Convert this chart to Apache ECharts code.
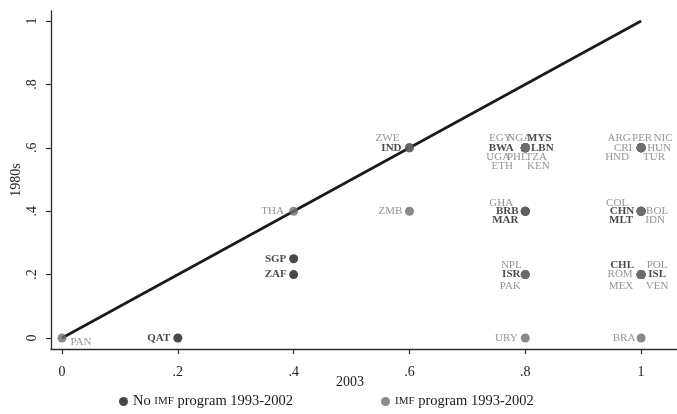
<!DOCTYPE html>
<html>
<head>
<meta charset="utf-8">
<script src="https://cdn.jsdelivr.net/npm/echarts@6/dist/echarts.min.js"></script>
<style>html,body{margin:0;padding:0;background:#fff}#c{width:677px;height:414px}</style>
</head>
<body>
<div id="c"></div>
<script>
// ---- data ----
const codes = ['PAN','QAT','THA','SGP','ZAF','ZWE','IND','ZMB',
  'EGY','NGA','MYS','BWA','LBN','UGA','PHL','TZA','ETH','KEN',
  'ARG','PER','NIC','CRI','HUN','HND','TUR',
  'GHA','BRB','MAR',
  'COL','CHN','BOL','MLT','IDN',
  'NPL','ISR','PAK',
  'CHL','POL','ROM','ISL','MEX','VEN',
  'URY','BRA'];
const share2003 = [0,0.2,0.4,0.4,0.4,0.6,0.6,0.6,
  0.8,0.8,0.8,0.8,0.8,0.8,0.8,0.8,0.8,0.8,
  1,1,1,1,1,1,1,
  0.8,0.8,0.8,
  1,1,1,1,1,
  0.8,0.8,0.8,
  1,1,1,1,1,1,
  0.8,1];
const share1980s = [0,0,0.4,0.25,0.2,0.6,0.6,0.4,
  0.6,0.6,0.6,0.6,0.6,0.6,0.6,0.6,0.6,0.6,
  0.6,0.6,0.6,0.6,0.6,0.6,0.6,
  0.4,0.4,0.4,
  0.4,0.4,0.4,0.4,0.4,
  0.2,0.2,0.2,
  0.2,0.2,0.2,0.2,0.2,0.2,
  0,0];
// 1 = IMF program 1993-2002, 0 = no IMF program
const imfProgram = [1,0,1,0,0,1,0,1,
  1,1,0,0,0,1,1,1,1,1,
  1,1,1,1,1,1,1,
  1,0,0,
  1,0,1,0,1,
  1,0,1,
  0,1,1,0,1,1,
  1,1];
const tickValues = [0,0.2,0.4,0.6,0.8,1];
const tickLabels = ['0','.2','.4','.6','.8','1'];
const groupNames = ['No IMF program 1993-2002','IMF program 1993-2002'];

// ---- label placement (layout only: [dx, dy] of label centre from marker) ----
const labelOffset = {
  PAN:[19,4], QAT:[-19,0], THA:[-21,0], SGP:[-18,0], ZAF:[-18,0],
  ZWE:[-22,-10], IND:[-18,0], ZMB:[-19,0],
  EGY:[-25,-10], NGA:[-6,-10], MYS:[14,-10], BWA:[-24,0], LBN:[17,0],
  UGA:[-27,9], PHL:[-8,9], TZA:[11,9], ETH:[-23,18], KEN:[13,18],
  ARG:[-22,-10], PER:[1,-10], NIC:[22,-10], CRI:[-18,0], HUN:[18,0], HND:[-24,9], TUR:[13,9],
  GHA:[-24,-8], BRB:[-18,0], MAR:[-20,9],
  COL:[-24,-8], CHN:[-19,0], BOL:[16,0], MLT:[-20,9], IDN:[14,9],
  NPL:[-14,-9], ISR:[-14,0], PAK:[-15,12],
  CHL:[-19,-9], POL:[16,-9], ROM:[-21,0], ISL:[16,0], MEX:[-20,12], VEN:[16,12],
  URY:[-19,0], BRA:[-17,0]
};

const FONT = "'Liberation Serif', 'DejaVu Serif', serif";
const DARK = '#1a1a1a', GREY = '#6d6d6d', GREYTXT = '#7a7a7a';

function items(flag) {
  const out = [];
  codes.forEach((c, i) => {
    if (imfProgram[i] !== flag) return;
    out.push({
      value: [share2003[i], share1980s[i]],
      name: c,
      label: {
        show: true, position: 'inside', offset: labelOffset[c],
        align: 'center', verticalAlign: 'middle',
        formatter: c, fontFamily: FONT, fontSize: 11,
        color: flag ? GREYTXT : DARK, fontWeight: flag ? 'normal' : 'bold'
      }
    });
  });
  return out;
}

const axisCommon = {
  type: 'value',
  axisLine: {show: true, onZero: false, lineStyle: {color: '#2b2b2b', width: 1.3}},
  axisTick: {show: true, length: 5, customValues: tickValues, lineStyle: {color: '#2b2b2b', width: 1.2}},
  splitLine: {show: false},
  nameMoveOverlap: false,
  nameTextStyle: {fontFamily: FONT, fontSize: 14, color: '#222'}
};
const fmt = v => tickLabels[tickValues.findIndex(t => Math.abs(t - v) < 1e-9)] || '';

const legendRich = {
  n: {fontFamily: FONT, fontSize: 14.5, color: '#1a1a1a'},
  s: {fontFamily: FONT, fontSize: 11, color: '#1a1a1a'}
};
const legendFmt = name => name.split('IMF').map(p => '{n|' + p + '}').join('{s|IMF}');

const chart = echarts.init(document.getElementById('c'), null, {renderer: 'canvas'});
chart.setOption({
  animation: false,
  backgroundColor: '#fff',
  grid: {left: 51, right: 0, top: 11, bottom: 65, containLabel: false, outerBoundsMode: 'none'},
  xAxis: Object.assign({}, axisCommon, {
    min: -0.019, max: 1.062,
    axisLabel: {customValues: tickValues, formatter: fmt, margin: 16, fontFamily: FONT, fontSize: 14, color: '#222'},
    name: '2003', nameLocation: 'middle', nameGap: 26,
    nameTextStyle: {fontFamily: FONT, fontSize: 14, color: '#222', padding: [0, 28, 0, 0]}
  }),
  yAxis: Object.assign({}, axisCommon, {
    min: -0.0347, max: 1.0315,
    axisLabel: {customValues: tickValues, formatter: fmt, rotate: 90, margin: 12, fontFamily: FONT, fontSize: 14, color: '#222'},
    name: '1980s', nameLocation: 'middle', nameGap: 28
  }),
  legend: [
    {data: [groupNames[0]], left: 114, top: 389, itemWidth: 9, itemHeight: 9, itemGap: 0,
     icon: 'circle', formatter: legendFmt, textStyle: {rich: legendRich}},
    {data: [groupNames[1]], left: 376, top: 389, itemWidth: 9, itemHeight: 9, itemGap: 0,
     icon: 'circle', formatter: legendFmt, textStyle: {rich: legendRich}}
  ],
  series: [
    {type: 'line', data: [[0, 0], [1, 1]], symbol: 'none', silent: true,
     lineStyle: {color: DARK, width: 2.6}, z: 1},
    {type: 'scatter', name: groupNames[0], data: items(0), symbol: 'circle', symbolSize: 9,
     itemStyle: {color: DARK}, z: 2},
    {type: 'scatter', name: groupNames[1], data: items(1), symbol: 'circle', symbolSize: 9,
     itemStyle: {color: GREY}, z: 3}
  ]
});
</script>
</body>
</html>
